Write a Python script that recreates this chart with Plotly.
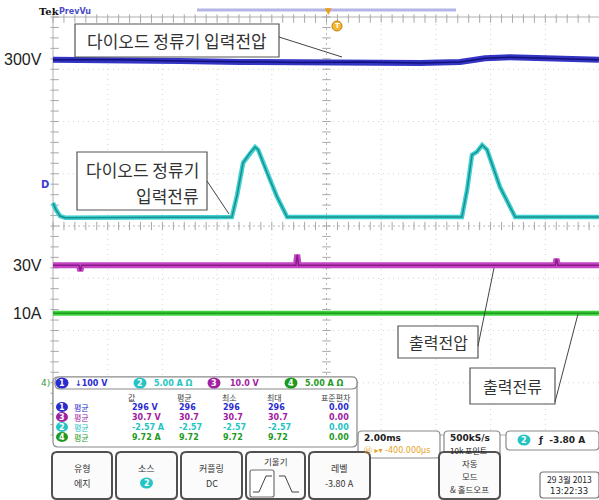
import plotly.graph_objects as go

# ---------------- waveform data ----------------
# time axis in ms (2 ms/div, trigger at screen centre), vertical in screen divisions
ch1_t = [-10.0, -7.55, -5.36, -3.16, -0.97, 1.22, 3.42, 4.88, 5.80, 6.71, 8.17, 9.96]
ch1_div = [3.18, 3.18, 3.16, 3.14, 3.13, 3.14, 3.12, 3.14, 3.21, 3.23, 3.21, 3.18]

ch2_t = [-10.0, -9.89, -9.74, -9.56, -3.46, -3.27, -3.05, -2.80, -2.61, -2.50, -2.17,
         -1.81, -1.44, 4.95, 5.14, 5.32, 5.50, 5.69, 5.87, 6.34, 6.64, 6.90, 9.96]
ch2_div = [0.44, 0.31, 0.19, 0.16, 0.17, 0.59, 1.21, 1.40, 1.51, 1.46, 1.01,
           0.56, 0.17, 0.17, 0.69, 1.36, 1.42, 1.55, 1.46, 0.75, 0.44, 0.17, 0.17]

ch3_t = [-10.0, -9.05, -9.0, -8.95, -1.12, -1.07, -1.02, 8.36, 8.41, 8.46, 9.96]
ch3_div = [-0.75, -0.75, -0.86, -0.75, -0.75, -0.55, -0.75, -0.75, -0.63, -0.75, -0.75]

ch4_t = [-10.0, 9.96]
ch4_div = [-1.67, -1.67]

# measurement table
meas_cols = ["값", "평균", "최소", "최대", "표준편차"]
meas_rows = [
    ("1", "#2b2bd0", ["296 V", "296", "296", "296", "0.00"]),
    ("3", "#a020a0", ["30.7 V", "30.7", "30.7", "30.7", "0.00"]),
    ("2", "#25c4c4", ["-2.57 A", "-2.57", "-2.57", "-2.57", "0.00"]),
    ("4", "#1f9a1f", ["9.72 A", "9.72", "9.72", "9.72", "0.00"]),
]
chan_header = [("1", "#2b2bd0", "↓100 V"), ("2", "#25c4c4", "5.00 A Ω"),
               ("3", "#a020a0", "10.0 V"), ("4", "#1f9a1f", "5.00 A Ω")]

level_labels = [("300V", 3.18), ("30V", -0.75), ("10A", -1.67)]

# ---------------- geometry helpers ----------------
W, H = 599, 500
X0, XDIV = 326.5, 27.35      # pixel of t=0, pixels per ms
Y0, YDIV = 226.0, 52.25      # pixel of centre line, pixels per division
KR = "Noto Sans CJK KR"


def fx(p):
    return p / W


def fy(p):
    return 1 - p / H


shapes, annos = [], []


def rrect(x0, y0, x1, y1, r=4, line="#666", width=1.2, fill="white", layer="above"):
    pts = (f"M{fx(x0 + r)},{fy(y0)} L{fx(x1 - r)},{fy(y0)} Q{fx(x1)},{fy(y0)} {fx(x1)},{fy(y0 + r)} "
           f"L{fx(x1)},{fy(y1 - r)} Q{fx(x1)},{fy(y1)} {fx(x1 - r)},{fy(y1)} "
           f"L{fx(x0 + r)},{fy(y1)} Q{fx(x0)},{fy(y1)} {fx(x0)},{fy(y1 - r)} "
           f"L{fx(x0)},{fy(y0 + r)} Q{fx(x0)},{fy(y0)} {fx(x0 + r)},{fy(y0)} Z")
    shapes.append(dict(type="path", path=pts, xref="paper", yref="paper",
                       line=dict(color=line, width=width), fillcolor=fill, layer=layer))


def rect(x0, y0, x1, y1, line="#555", width=1.2, fill="white"):
    shapes.append(dict(type="rect", xref="paper", yref="paper", x0=fx(x0), x1=fx(x1),
                       y0=fy(y1), y1=fy(y0), line=dict(color=line, width=width), fillcolor=fill))


def seg(x0, y0, x1, y1, color="#444", width=1):
    shapes.append(dict(type="line", xref="paper", yref="paper", x0=fx(x0), y0=fy(y0),
                       x1=fx(x1), y1=fy(y1), line=dict(color=color, width=width)))


def text(x, y, s, size=10, color="#333", xanchor="center", family=KR, bold=False):
    if bold:
        s = f"<b>{s}</b>"
    annos.append(dict(x=fx(x), y=fy(y), xref="paper", yref="paper", text=s, showarrow=False,
                      xanchor=xanchor, yanchor="middle", font=dict(size=size, color=color, family=family)))


def badge(x, y, num, color, r=5.5):
    shapes.append(dict(type="circle", xref="paper", yref="paper", x0=fx(x - r - 1), x1=fx(x + r + 1),
                       y0=fy(y + r), y1=fy(y - r), line=dict(width=0), fillcolor=color))
    text(x, y, num, size=8, color="white", family="DejaVu Sans", bold=True)


fig = go.Figure()

# ---------------- graticule ----------------
T_MIN, T_MAX, D_MIN, D_MAX = -10, 10, -4, 4
for t in range(-8, 9, 2):
    shapes.append(dict(type="line", xref="x", yref="y", x0=t, x1=t, y0=D_MIN, y1=D_MAX, layer="below",
                       line=dict(color="#b8b8b8" if t == 0 else "#d4d4d4", width=1,
                                 dash="2px,3px" if t == 0 else "1px,4px")))
for d in range(-3, 4):
    shapes.append(dict(type="line", xref="x", yref="y", x0=T_MIN, x1=T_MAX, y0=d, y1=d, layer="below",
                       line=dict(color="#b8b8b8" if d == 0 else "#d4d4d4", width=1,
                                 dash="2px,3px" if d == 0 else "1px,4px")))
shapes.append(dict(type="rect", xref="x", yref="y", x0=T_MIN, x1=T_MAX, y0=D_MIN, y1=D_MAX,
                   layer="below", line=dict(color="#b0b0b0", width=1)))

tick_t = [T_MIN + 0.4 * i for i in range(51)]
tick_d = [D_MIN + 0.2 * i for i in range(41)]
fig.add_trace(go.Scatter(x=tick_t * 2, y=[0] * 51 + [D_MAX - 0.03] * 51, mode="markers",
                         marker=dict(symbol="line-ns", size=6, line=dict(color="#a8a8a8", width=1)),
                         hoverinfo="skip", showlegend=False))
fig.add_trace(go.Scatter(x=[0] * 41 + [T_MIN + 0.06] * 41, y=tick_d * 2, mode="markers",
                         marker=dict(symbol="line-ew", size=6, line=dict(color="#a8a8a8", width=1)),
                         hoverinfo="skip", showlegend=False))

# ---------------- waveforms ----------------
waves = [
    (ch1_t, ch1_div, "#3333c4", "#12127a", 6),
    (ch2_t, ch2_div, "#3cd0d0", "#1a8f8f", 4.5),
    (ch3_t, ch3_div, "#c446c4", "#8a1a8a", 6),
    (ch4_t, ch4_div, "#3fd23f", "#1c9a1c", 5),
]
for t, d, band, core, w in waves:
    fig.add_trace(go.Scatter(x=t, y=d, mode="lines", line=dict(color=band, width=w),
                             hoverinfo="skip", showlegend=False))
    fig.add_trace(go.Scatter(x=t, y=d, mode="lines", line=dict(color=core, width=1.5),
                             hoverinfo="skip", showlegend=False))

# level labels at the left
for lab, d in level_labels:
    annos.append(dict(x=fx(44), y=d, xref="paper", yref="y", text=lab, showarrow=False,
                      xanchor="right", yanchor="middle",
                      font=dict(size=16, color="#222", family="Liberation Sans")))

# ---------------- callouts ----------------
rect(75, 24, 279, 57)
text(177, 41, "다이오드 정류기 입력전압", size=17)
seg(279, 37, 342, 57)

rect(77, 152, 207, 210)
text(201, 169, "다이오드 정류기", size=17, xanchor="right")
text(201, 195, "입력전류", size=17, xanchor="right")
seg(207, 181, 229, 214)

rect(398, 326, 478, 358)
text(438, 342, "출력전압", size=16)
seg(478, 346, 494, 268)

rect(470, 368, 555, 404)
text(512, 386, "출력전류", size=16)
seg(555, 402, 578, 314)

# ---------------- header ----------------
text(37, 11, "Tek", size=10, color="#111", xanchor="left", family="DejaVu Serif", bold=True)
text(57, 11, "PrevVu", size=8, color="#4a4ac8", xanchor="left", family="DejaVu Sans", bold=True)
seg(197, 10, 456, 10, color="#b4b4e6", width=3)
text(328, 11, "▼", size=9, color="#e8a020", family="DejaVu Sans")
shapes.append(dict(type="circle", xref="paper", yref="paper", x0=fx(332), x1=fx(342), y0=fy(31), y1=fy(21),
                   line=dict(color="#c08010", width=1), fillcolor="#f5b830"))
text(337, 26, "T", size=7, color="#ffffff", family="DejaVu Sans", bold=True)

# channel ground markers
text(45, 184, "D", size=10, color="#3a3ad0", family="DejaVu Sans", bold=True)
text(45, 383, "4)", size=9, color="#3a9a3a", family="DejaVu Sans")

# ---------------- measurement panel ----------------
rrect(53, 377, 357, 447, r=5, line="#8a8a8a", width=1.2)
rrect(55, 377, 357, 389, r=5, line="#8a8a8a", width=1.2)
hx = [(62, 73), (140, 152), (214, 228), (291, 303)]
for (num, col, lab), (bx, tx) in zip(chan_header, hx):
    badge(bx, 383, num, col)
    text(tx, 383, lab, size=8, color=col, xanchor="left", family="DejaVu Sans", bold=True)

col_x = [132, 184, 229, 274, 336]
for cx, c in zip(col_x, meas_cols):
    text(cx, 397, c, size=8, color="#444")
row_y = [407, 417, 427, 437]
val_x = [130, 177, 221, 266, 327]
for (num, col, vals), ry in zip(meas_rows, row_y):
    badge(62, ry, num, col, r=5)
    text(72, ry, "평균", size=8, color=col, xanchor="left")
    for vx, v in zip(val_x, vals):
        text(vx, ry, v, size=8, color=col, xanchor="left", family="DejaVu Sans", bold=True)

# ---------------- readouts ----------------
rrect(358, 431, 440, 458, r=4, line="#8a8a8a")
text(362, 438, "2.00ms", size=9, color="#222", xanchor="left", family="DejaVu Sans", bold=True)
text(362, 450, "Ⓗ ▸▾ -400.000μs", size=8, color="#e8a020", xanchor="left", family="DejaVu Sans")
rrect(444, 431, 500, 458, r=4, line="#8a8a8a")
text(448, 438, "500kS/s", size=9, color="#222", xanchor="left", family="DejaVu Sans", bold=True)
text(448, 450, "10k 포인트", size=8, color="#222", xanchor="left")
rrect(506, 431, 599, 450, r=4, line="#8a8a8a")
badge(524, 440, "2", "#25c4c4")
text(536, 440, "ƒ  -3.80 A", size=9, color="#222", xanchor="left", family="DejaVu Sans", bold=True)

# ---------------- soft keys ----------------
keys = [(52, 112, ["유형", "에지"]), (116, 177, ["소스", ""]), (181, 242, ["커플링", "DC"]),
        (246, 305, ["기울기"]), (309, 370, ["레벨", "-3.80 A"]),
        (439, 500, ["자동", "모드", "& 홀드오프"])]
for x0, x1, lines in keys:
    rrect(x0, 452, x1, 499, r=5, line="#505050", width=2, fill="#fbfbfb")
    cx = (x0 + x1) / 2
    if len(lines) == 1:
        text(cx, 461, lines[0], size=8.5)
    elif len(lines) == 2:
        text(cx, 468, lines[0], size=9)
        if lines[1]:
            text(cx, 483, lines[1], size=9)
    else:
        for i, ln in enumerate(lines):
            text(cx, 463 + 13 * i, ln, size=8.5)
badge(146.5, 483, "2", "#25c4c4")
# slope selector icons
rrect(250, 470, 274, 497, r=2, line="#707070", width=1.2)
seg(253, 492, 259, 492, color="#444")
seg(259, 492, 266, 476, color="#444")
seg(266, 476, 272, 476, color="#444")
seg(279, 476, 285, 476, color="#444")
seg(285, 476, 292, 492, color="#444")
seg(292, 492, 299, 492, color="#444")

rrect(540, 472, 599, 498, r=3, line="#777", width=1.2)
text(569, 479, "29 3월 2013", size=8.5, color="#222")
text(569, 491, "13:22:33", size=8.5, color="#222", family="DejaVu Sans")

fig.update_layout(
    width=W, height=H, margin=dict(l=0, r=0, t=0, b=0),
    paper_bgcolor="white", plot_bgcolor="white",
    xaxis=dict(range=[(0 - X0) / XDIV, (W - X0) / XDIV], visible=False, fixedrange=True),
    yaxis=dict(range=[(Y0 - H) / YDIV, Y0 / YDIV], visible=False, fixedrange=True),
    shapes=shapes, annotations=annos, showlegend=False,
)

fig.write_html("out.html")
